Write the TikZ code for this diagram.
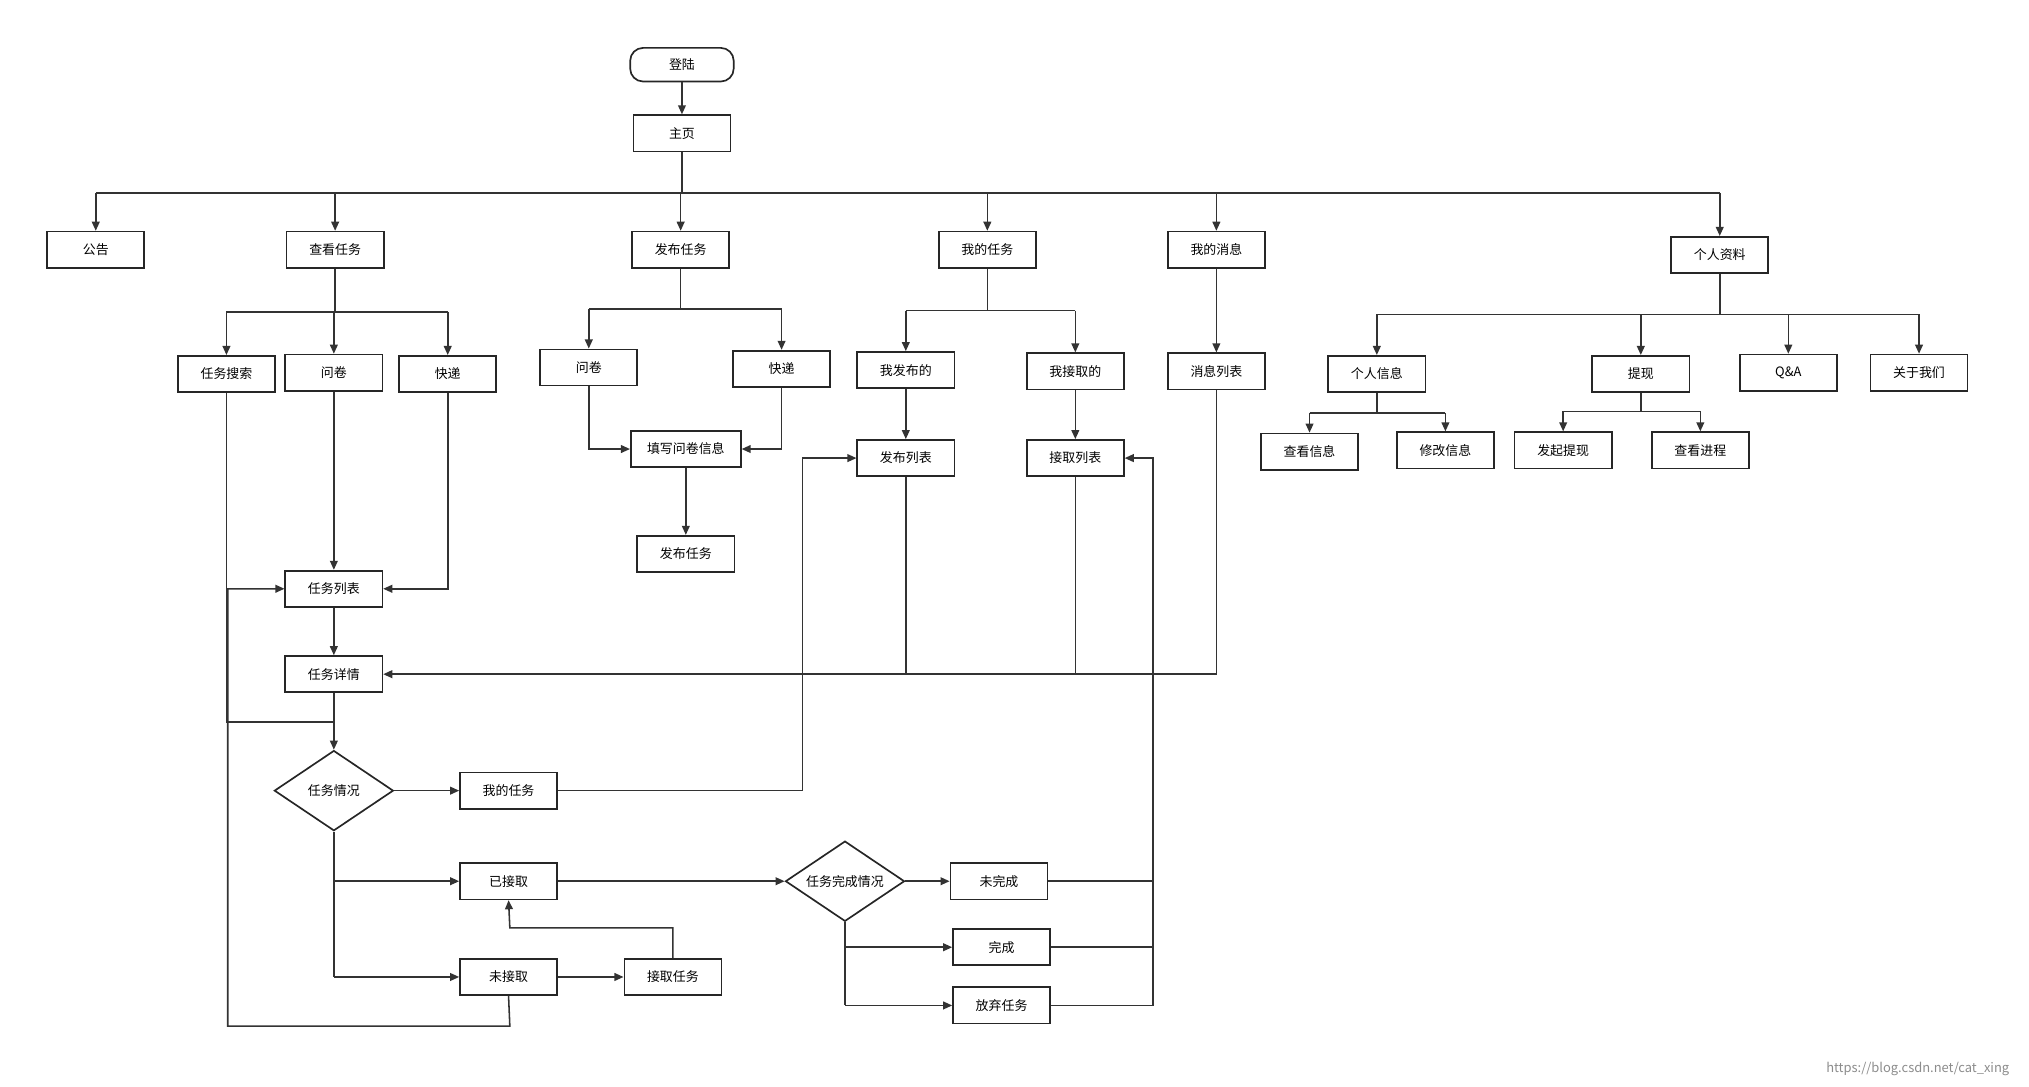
\documentclass[tikz,border=0pt]{standalone}
\usepackage{fontspec}
\setmainfont{Noto Sans CJK SC}
\usetikzlibrary{shapes.geometric,arrows.meta}
\begin{document}
\begin{tikzpicture}[x=1pt,y=-1pt,
 box/.style={draw=black!85,line width=1.3pt,minimum width=75pt,minimum height=28pt,inner sep=0pt,font=\fontsize{10}{12}\selectfont},
 dia/.style={draw=black!85,line width=1.3pt,diamond,aspect=1.5,minimum width=92pt,minimum height=62pt,inner sep=0pt,font=\fontsize{10}{12}\selectfont},
 ln/.style={draw=black!80,line width=1.2pt},
 ar/.style={ln,-{Triangle[length=7pt,width=6pt]}}]
\useasboundingbox (0,0) rectangle (1568,840);
\node[box,rounded corners=10pt,minimum width=80pt,minimum height=26pt] (login) at (527,50) {登陆};
\node[box] (home) at (527,103) {主页};
\node[box] (gg) at (74,193) {公告};
\node[box] (ck) at (259,193) {查看任务};
\node[box] (fb) at (526,193) {发布任务};
\node[box] (wd) at (763,193) {我的任务};
\node[box] (xx) at (940,193) {我的消息};
\node[box] (gr) at (1329,197) {个人资料};
\node[box] (ss) at (175,289) {任务搜索};
\node[box] (wj1) at (258,288) {问卷};
\node[box] (kd1) at (346,289) {快递};
\node[box] (wj2) at (455,284) {问卷};
\node[box] (kd2) at (604,285) {快递};
\node[box,minimum width=85pt] (tx) at (530,347) {填写问卷信息};
\node[box] (fb2) at (530,428) {发布任务};
\node[box] (wfb) at (700,286) {我发布的};
\node[box] (wjq) at (831,287) {我接取的};
\node[box] (fblb) at (700,354) {发布列表};
\node[box] (jqlb) at (831,354) {接取列表};
\node[box] (xxlb) at (940,287) {消息列表};
\node[box] (grxx) at (1064,289) {个人信息};
\node[box] (tix) at (1268,289) {提现};
\node[box] (qa) at (1382,288) {Q\&A};
\node[box] (gy) at (1483,288) {关于我们};
\node[box] (ckxx) at (1012,349) {查看信息};
\node[box] (xgxx) at (1117,348) {修改信息};
\node[box] (fqtx) at (1208,348) {发起提现};
\node[box] (ckjc) at (1314,348) {查看进程};
\node[box] (rwlb) at (258,455) {任务列表};
\node[box] (rwxq) at (258,521) {任务详情};
\node[dia] (rwqk) at (258,611) {任务情况};
\node[box] (wdrw) at (393,611) {我的任务};
\node[box] (yjq) at (393,681) {已接取};
\node[box] (wjq2) at (393,755) {未接取};
\node[box] (jqrw) at (520,755) {接取任务};
\node[dia] (wcqk) at (653,681) {任务完成情况};
\node[box] (wwc) at (772,681) {未完成};
\node[box] (wc) at (774,732) {完成};
\node[box] (fq) at (774,777) {放弃任务};
\node[text=black!45,font=\fontsize{10}{12}\selectfont] (wm) at (1482,826) {https://blog.csdn.net/cat\_xing};
% top
\draw[ar] (login) -- (home);
\draw[ln] (home.south) -- (527,149);
\draw[ln] (74,149) -- (1329,149);
\foreach \n/\x in {gg/74,ck/259,fb/526,wd/763,xx/940,gr/1329} \draw[ar] (\x,149) -- (\n.north);
% 查看任务
\draw[ln] (ck.south) -- (259,241); \draw[ln] (175,241) -- (346,241);
\foreach \n/\x in {ss/175,wj1/258,kd1/346} \draw[ar] (\x,241) -- (\n.north);
% 发布任务
\draw[ln] (fb.south) -- (526,239); \draw[ln] (455,239) -- (604,239);
\foreach \n/\x in {wj2/455,kd2/604} \draw[ar] (\x,239) -- (\n.north);
\draw[ar] (wj2.south) |- (tx.west);
\draw[ar] (kd2.south) |- (tx.east);
\draw[ar] (tx) -- (fb2);
% 我的任务
\draw[ln] (wd.south) -- (763,240); \draw[ln] (700,240) -- (831,240);
\foreach \n/\x in {wfb/700,wjq/831} \draw[ar] (\x,240) -- (\n.north);
\draw[ar] (wfb) -- (fblb);
\draw[ar] (wjq) -- (jqlb);
\draw[ar] (xx) -- (xxlb);
% 个人资料
\draw[ln] (gr.south) -- (1329,243); \draw[ln] (1064,243) -- (1483,243);
\foreach \n/\x in {grxx/1064,tix/1268,qa/1382,gy/1483} \draw[ar] (\x,243) -- (\n.north);
\draw[ln] (grxx.south) -- (1064,319); \draw[ln] (1012,319) -- (1117,319);
\draw[ar] (1012,319) -- (ckxx.north); \draw[ar] (1117,319) -- (xgxx.north);
\draw[ln] (tix.south) -- (1268,318); \draw[ln] (1208,318) -- (1314,318);
\draw[ar] (1208,318) -- (fqtx.north); \draw[ar] (1314,318) -- (ckjc.north);
% 任务列表
\draw[ar] (wj1) -- (rwlb);
\draw[ar] (kd1.south) |- (rwlb.east);
\draw[ln] (ss.south) -- (175,558) -- (258,558);
\draw[ar] (rwlb) -- (rwxq);
\draw[ar] (rwxq) -- (rwqk.north);
\draw[ar] (xxlb.south) |- (rwxq.east);
\draw[ln] (fblb.south) -- (700,521);
\draw[ln] (jqlb.south) -- (831,521);
% 任务情况
\draw[ar] (rwqk.east) -- (wdrw.west);
\draw[ar] (wdrw.east) -- (620,611) -- (620,354) -- (fblb.west);
\draw[ln] (rwqk.south) -- (258,755);
\draw[ar] (258,681) -- (yjq.west);
\draw[ar] (258,755) -- (wjq2.west);
\draw[ar] (wjq2) -- (jqrw);
\draw[ar] (jqrw.north) -- (520,717) -- (394,717) -- (yjq.south);
\draw[ar] (wjq2.south) -- (394,793) -- (176,793) -- (176,455) -- (rwlb.west);
\draw[ar] (yjq) -- (wcqk.west);
\draw[ar] (wcqk.east) -- (wwc.west);
\draw[ln] (wcqk.south) -- (653,777);
\draw[ar] (653,732) -- (wc.west);
\draw[ar] (653,777) -- (fq.west);
\draw[ln] (wwc.east) -- (891,681);
\draw[ln] (wc.east) -- (891,732);
\draw[ar] (fq.east) -- (891,777) -- (891,354) -- (jqlb.east);
\end{tikzpicture}
\end{document}
